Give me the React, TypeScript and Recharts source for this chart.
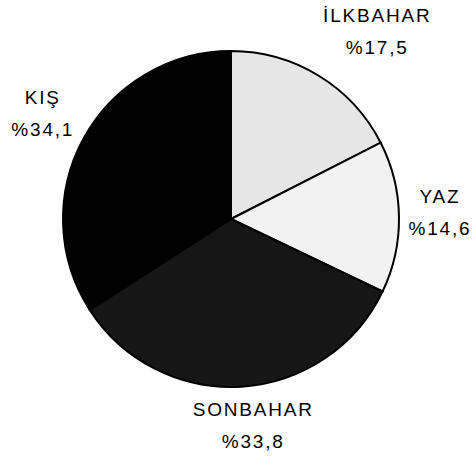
import { PieChart, Pie, Cell } from "recharts";

// Mevsimlere göre dağılım (%)
const seasons = ["İLKBAHAR", "YAZ", "SONBAHAR", "KIŞ"];
const shares = [17.5, 14.6, 33.8, 34.1];

// Görünüm ayarları (veriden ayrı)
const fills = ["#e6e6e6", "#f2f2f2", "#161616", "#000000"];
const labelNudge = [
  [36, -8],
  [-2, -4],
  [9, -4],
  [-3, -4],
];

const RADIAN = Math.PI / 180;
const chartData = seasons.map((name, i) => ({ name, value: shares[i] }));

function SeasonLabel(props: any) {
  const { cx, cy, midAngle, outerRadius, index } = props;
  const r = outerRadius + 43;
  const x = cx + r * Math.cos(-midAngle * RADIAN) + labelNudge[index][0];
  const y = cy + r * Math.sin(-midAngle * RADIAN) + labelNudge[index][1];
  const pct = "%" + shares[index].toFixed(1).replace(".", ",");
  return (
    <text
      x={x}
      y={y}
      textAnchor="middle"
      fill="#000"
      fontSize={19}
      letterSpacing={1.8}
      fontFamily="'Liberation Sans', Arial, sans-serif"
    >
      <tspan x={x} y={y - 9.5}>
        {seasons[index]}
      </tspan>
      <tspan x={x} y={y + 22.5}>
        {pct}
      </tspan>
    </text>
  );
}

export default function App() {
  return (
    <div style={{ position: "fixed", left: 0, top: 0, background: "#fff" }}>
      <PieChart
        width={475}
        height={460}
        margin={{ top: 0, right: 0, bottom: 0, left: 0 }}
      >
        <Pie
          data={chartData}
          dataKey="value"
          nameKey="name"
          cx={231}
          cy={219}
          outerRadius={168}
          startAngle={90}
          endAngle={-270}
          stroke="#000"
          strokeWidth={2}
          label={SeasonLabel}
          labelLine={false}
          isAnimationActive={false}
        >
          {chartData.map((d, i) => (
            <Cell key={d.name} fill={fills[i]} />
          ))}
        </Pie>
      </PieChart>
    </div>
  );
}
